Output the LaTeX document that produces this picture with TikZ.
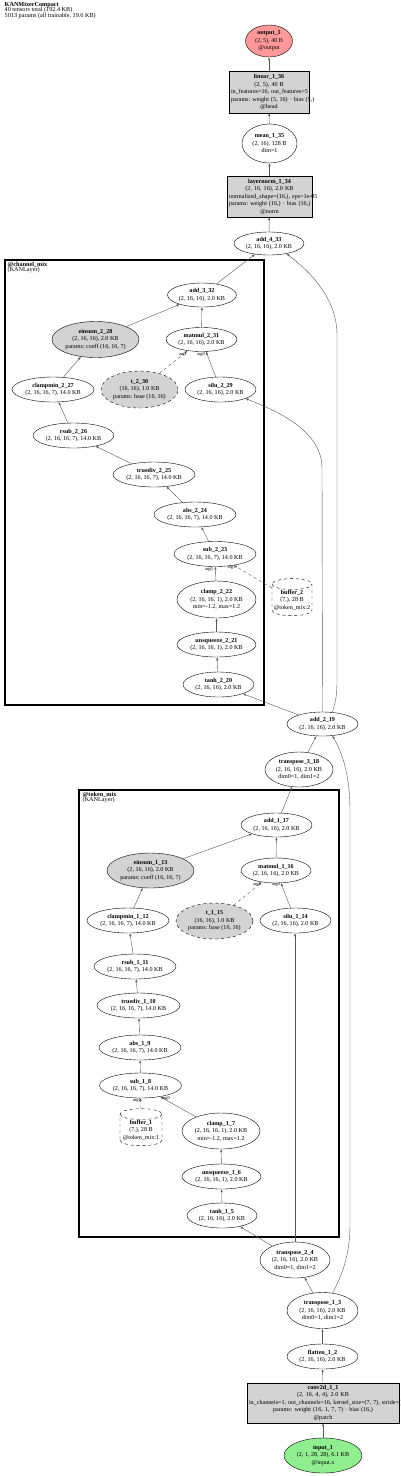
\documentclass[tikz,border=0pt]{standalone}
\usepackage{fontspec}
\setmainfont{Liberation Serif}
\usetikzlibrary{
    arrows.meta,
    shapes.geometric
}
\definecolor{ink}{RGB}{0,0,0}
\definecolor{edgegray}{RGB}{85,85,85}
\definecolor{opgray}{RGB}{211,211,211}
\definecolor{outred}{RGB}{255,153,153}
\definecolor{ingreen}{RGB}{144,238,144}
\newcommand{\gvfont}{\fontsize{6.1}{7.5}\selectfont\frenchspacing}
\newcommand{\gvhead}{\fontsize{6.2}{5.4}\selectfont\lineskiplimit=-5pt\frenchspacing}
\newcommand{\gvarg}{\fontsize{4.5}{5}\selectfont}
\tikzset{
    tensor/.style={
        ellipse,
        draw=ink,
        line width=0.4pt,
        inner sep=0pt,
        align=center,
        font=\gvfont,
        text=ink
    },
    paramop/.style={tensor, fill=opgray},
    weightop/.style={tensor, fill=opgray, dashed},
    outnode/.style={tensor, fill=outred},
    innode/.style={tensor, fill=ingreen},
    modbox/.style={
        rectangle,
        draw=ink,
        line width=0.4pt,
        fill=opgray,
        inner sep=2pt,
        align=center,
        font=\gvfont,
        text=ink
    },
    bufnode/.style={
        cylinder,
        shape border rotate=90,
        aspect=0.3,
        draw=ink,
        dashed,
        line width=0.4pt,
        inner sep=0pt,
        align=center,
        font=\gvfont
    },
    flow/.style={
        -{Latex[length=3pt, width=2.2pt]},
        draw=edgegray,
        line width=0.4pt
    },
    weightflow/.style={flow, dashed},
    cluster/.style={
        rectangle,
        draw=ink,
        line width=2pt,
        inner sep=0pt
    },
    headtext/.style={
        anchor=north west,
        align=left,
        inner sep=0pt,
        font=\gvhead
    },
    arglabel/.style={font=\gvarg, inner sep=0pt}
}

\begin{document}
\begin{tikzpicture}[x=1pt, y=-1pt]
\useasboundingbox (0,0) rectangle (400,1476);

\node[headtext] (title) at (4.5,2) {\textbf{KANMixerCompact}\\40 tensors total (192.4 KB)\\5013 params (all trainable, 19.6 KB)};

% module clusters
\node[cluster, minimum width=259, minimum height=445] (channelmix) at (134.5,482.5) {};
\node[headtext] (channellabel) at (7.5,261.5) {\textbf{@channel\_mix}\\(KANLayer)};
\node[cluster, minimum width=260, minimum height=447] (tokenmix) at (209,1013.5) {};
\node[headtext] (tokenlabel) at (82.5,791.5) {\textbf{@token\_mix}\\(KANLayer)};

% head
\node[outnode, minimum width=47, minimum height=32] (output1) at (269,41) {\textbf{output\_1}\\(2, 5), 40 B\\@output};
\node[modbox, minimum width=80, minimum height=42, text width=76] (linear36) at (269,92)
    {\textbf{linear\_1\_36}\\(2, 5), 40 B\\\mbox{in\_features=16, out\_features=5}\\\mbox{params: weight (5, 16) · bias (5,)}\\@head};
\node[tensor, minimum width=55, minimum height=39] (mean35) at (269.5,143.5) {\textbf{mean\_1\_35}\\(2, 16), 128 B\\dim=1};
\node[modbox, minimum width=85, minimum height=41, text width=81] (layernorm34) at (269.5,196.5)
    {\textbf{layernorm\_1\_34}\\(2, 16, 16), 2.0 KB\\\mbox{normalized\_shape=(16,), eps=1e-05}\\\mbox{params: weight (16,) · bias (16,)}\\@norm};
\node[tensor, minimum width=70, minimum height=23] (add433) at (269,243.5) {\textbf{add\_4\_33}\\(2, 16, 16), 2.0 KB};

% channel mix
\node[tensor, minimum width=69, minimum height=24] (add332) at (202,295) {\textbf{add\_3\_32}\\(2, 16, 16), 2.0 KB};
\node[paramop, minimum width=87, minimum height=36] (einsum228) at (95.5,339.5) {\textbf{einsum\_2\_28}\\(2, 16, 16), 2.0 KB\\params: coeff (16, 16, 7)};
\node[tensor, minimum width=71, minimum height=24] (matmul231) at (201.5,339.5) {\textbf{matmul\_2\_31}\\(2, 16, 16), 2.0 KB};
\node[tensor, minimum width=82, minimum height=25] (clampmin227) at (53,389.5) {\textbf{clampmin\_2\_27}\\(2, 16, 16, 7), 14.0 KB};
\node[weightop, minimum width=77, minimum height=37] (t230) at (139.5,389.5) {\textbf{t\_2\_30}\\(16, 16), 1.0 KB\\params: base (16, 16)};
\node[tensor, minimum width=71, minimum height=25] (silu229) at (220.5,389.5) {\textbf{silu\_2\_29}\\(2, 16, 16), 2.0 KB};
\node[tensor, minimum width=81, minimum height=25] (rsub226) at (73.5,435.5) {\textbf{rsub\_2\_26}\\(2, 16, 16, 7), 14.0 KB};
\node[tensor, minimum width=82, minimum height=25] (truediv225) at (154,474.5) {\textbf{truediv\_2\_25}\\(2, 16, 16, 7), 14.0 KB};
\node[tensor, minimum width=82, minimum height=25] (abs224) at (195,514.5) {\textbf{abs\_2\_24}\\(2, 16, 16, 7), 14.0 KB};
\node[tensor, minimum width=82, minimum height=25] (sub223) at (215,554) {\textbf{sub\_2\_23}\\(2, 16, 16, 7), 14.0 KB};
\node[bufnode, minimum width=40, minimum height=34] (buffer2) at (292,600) {\textbf{buffer\_2}\\(7,), 28 B\\@token\_mix:2};
\node[tensor, minimum width=79, minimum height=37] (clamp222) at (216.5,599.5) {\textbf{clamp\_2\_22}\\(2, 16, 16, 1), 2.0 KB\\min=-1.2, max=1.2};
\node[tensor, minimum width=79, minimum height=25] (unsqueeze221) at (216.5,644.5) {\textbf{unsqueeze\_2\_21}\\(2, 16, 16, 1), 2.0 KB};
\node[tensor, minimum width=71, minimum height=25] (tanh220) at (218.5,684.5) {\textbf{tanh\_2\_20}\\(2, 16, 16), 2.0 KB};

\node[tensor, minimum width=71, minimum height=24] (add219) at (322.5,724) {\textbf{add\_2\_19}\\(2, 16, 16), 2.0 KB};
\node[tensor, minimum width=68, minimum height=35] (transpose318) at (299,769.5) {\textbf{transpose\_3\_18}\\(2, 16, 16), 2.0 KB\\dim0=1, dim1=2};

% token mix
\node[tensor, minimum width=71, minimum height=24] (add117) at (276.5,825) {\textbf{add\_1\_17}\\(2, 16, 16), 2.0 KB};
\node[paramop, minimum width=87, minimum height=35] (einsum113) at (150.5,870.5) {\textbf{einsum\_1\_13}\\(2, 16, 16), 2.0 KB\\params: coeff (16, 16, 7)};
\node[tensor, minimum width=70, minimum height=25] (matmul116) at (276,870.5) {\textbf{matmul\_1\_16}\\(2, 16, 16), 2.0 KB};
\node[tensor, minimum width=82, minimum height=25] (clampmin112) at (128,920.5) {\textbf{clampmin\_1\_12}\\(2, 16, 16, 7), 14.0 KB};
\node[weightop, minimum width=77, minimum height=36] (t115) at (214.5,921) {\textbf{t\_1\_15}\\(16, 16), 1.0 KB\\params: base (16, 16)};
\node[tensor, minimum width=71, minimum height=25] (silu114) at (295.5,920.5) {\textbf{silu\_1\_14}\\(2, 16, 16), 2.0 KB};
\node[tensor, minimum width=82, minimum height=25] (rsub111) at (135,966.5) {\textbf{rsub\_1\_11}\\(2, 16, 16, 7), 14.0 KB};
\node[tensor, minimum width=83, minimum height=25] (truediv110) at (138.5,1005.5) {\textbf{truediv\_1\_10}\\(2, 16, 16, 7), 14.0 KB};
\node[tensor, minimum width=82, minimum height=25] (abs19) at (140,1047.5) {\textbf{abs\_1\_9}\\(2, 16, 16, 7), 14.0 KB};
\node[tensor, minimum width=82, minimum height=25] (sub18) at (140.5,1085.5) {\textbf{sub\_1\_8}\\(2, 16, 16, 7), 14.0 KB};
\node[bufnode, minimum width=42, minimum height=35] (buffer1) at (141,1130) {\textbf{buffer\_1}\\(7,), 28 B\\@token\_mix:1};
\node[tensor, minimum width=78, minimum height=36] (clamp17) at (221,1131) {\textbf{clamp\_1\_7}\\(2, 16, 16, 1), 2.0 KB\\min=-1.2, max=1.2};
\node[tensor, minimum width=79, minimum height=25] (unsqueeze16) at (221.5,1176.5) {\textbf{unsqueeze\_1\_6}\\(2, 16, 16, 1), 2.0 KB};
\node[tensor, minimum width=70, minimum height=25] (tanh15) at (222,1215.5) {\textbf{tanh\_1\_5}\\(2, 16, 16), 2.0 KB};

% stem
\node[tensor, minimum width=70, minimum height=36] (transpose24) at (295,1260) {\textbf{transpose\_2\_4}\\(2, 16, 16), 2.0 KB\\dim0=1, dim1=2};
\node[tensor, minimum width=71, minimum height=36] (transpose13) at (322.5,1310.5) {\textbf{transpose\_1\_3}\\(2, 16, 16), 2.0 KB\\dim0=1, dim1=2};
\node[tensor, minimum width=71, minimum height=25] (flatten12) at (322.5,1356.5) {\textbf{flatten\_1\_2}\\(2, 16, 16), 2.0 KB};
\node[modbox, minimum width=152, minimum height=40, text width=148] (conv2d11) at (323,1403)
    {\textbf{conv2d\_1\_1}\\(2, 16, 4, 4), 2.0 KB\\\mbox{in\_channels=1, out\_channels=16, kernel\_size=(7, 7), stride=(7, 7)}\\\mbox{params: weight (16, 1, 7, 7) · bias (16,)}\\@patch};
\node[innode, minimum width=78, minimum height=35] (input1) at (323,1455.5) {\textbf{input\_1}\\(2, 1, 28, 28), 6.1 KB\\@input.x};

% data flow
\foreach \src/\dst in {%
    linear36/output1, mean35/linear36, layernorm34/mean35, add433/layernorm34,%
    add332/add433, einsum228/add332, matmul231/add332, silu229/matmul231,%
    clampmin227/einsum228, rsub226/clampmin227, truediv225/rsub226, abs224/truediv225,%
    sub223/abs224, clamp222/sub223, unsqueeze221/clamp222, tanh220/unsqueeze221,%
    add219/tanh220, transpose318/add219, add117/transpose318,%
    einsum113/add117, matmul116/add117, silu114/matmul116, clampmin112/einsum113,%
    rsub111/clampmin112, truediv110/rsub111, abs19/truediv110, sub18/abs19,%
    clamp17/sub18, unsqueeze16/clamp17, tanh15/unsqueeze16, transpose24/tanh15,%
    transpose13/transpose24, flatten12/transpose13, conv2d11/flatten12, input1/conv2d11%
} {
    \draw[flow] (\src) -- (\dst);
}
\foreach \src/\dst in {t230/matmul231, buffer2/sub223, t115/matmul116, buffer1/sub18} {
    \draw[weightflow] (\src) -- (\dst);
}

% skip connections
\draw[flow] (add219.50) .. controls (336,700) and (337,695) .. (337,680) -- (337,335)
    .. controls (337,295) and (305,268) .. (add433.-30);
\draw[flow] (add219.north) -- (322,468) .. controls (322,430) and (275,410) .. (silu229.-20);
\draw[flow] (transpose13.60) .. controls (342,1275) and (350,1255) .. (350,1225) -- (350,810)
    .. controls (350,775) and (342,752) .. (add219.-50);
\draw[flow] (transpose24.north) -- (transpose24.north |- silu114.south);

% argument labels
\node[arglabel] (arg231a) at (183,354) {arg1};
\node[arglabel] (arg231b) at (201,354.5) {arg0};
\node[arglabel] (arg223a) at (209,569) {arg0};
\node[arglabel] (arg223b) at (231.5,567) {arg1};
\node[arglabel] (arg116a) at (257,884.5) {arg1};
\node[arglabel] (arg116b) at (276,884.5) {arg0};
\node[arglabel] (arg18a) at (137,1100) {arg1};
\node[arglabel] (arg18b) at (166,1098) {arg0};

\end{tikzpicture}
\end{document}
